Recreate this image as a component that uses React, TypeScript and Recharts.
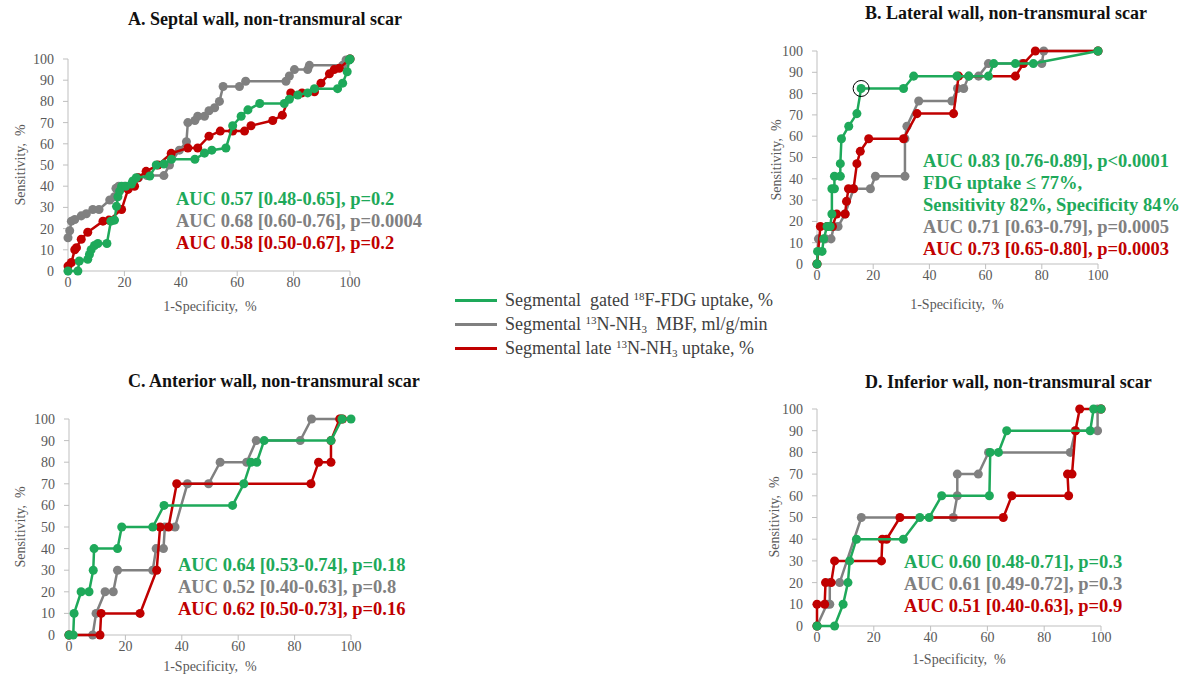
import React from "react";
import {
  ScatterChart,
  Scatter,
  XAxis,
  YAxis,
  ZAxis,
  ReferenceDot,
} from "recharts";

type Pt = { x: number; y: number };
const pts = (a: number[][]): Pt[] => a.map(([x, y]) => ({ x, y }));

const xTicks = [0, 20, 40, 60, 80, 100];
const yTicks = [0, 10, 20, 30, 40, 50, 60, 70, 80, 90, 100];

// A. Septal wall
const septalFdg = pts([
  [0, 0], [3.5, 0], [4, 4.7], [7, 5.5], [7.6, 7.8], [8.2, 10], [9.4, 12], [10.6, 13],
  [13.8, 13], [15.2, 23.5], [16.5, 24], [17.2, 30.5], [17.7, 35], [18.3, 37.7], [19, 40],
  [20.5, 40], [22.5, 41], [23, 42.5], [24.2, 44], [29, 44.8], [31.3, 50], [34, 50.5],
  [36.7, 52.7], [45, 52.7], [48.4, 55.6], [51, 57], [56, 58], [58.4, 68.5], [61.4, 73],
  [63.8, 76], [68, 79], [76.7, 79], [78.5, 81], [81.5, 83], [85, 84], [87.4, 86],
  [95.6, 86], [97.4, 88.6], [99, 94], [99.7, 99.5], [100, 100],
]);
const septalMbf = pts([
  [0, 15.7], [0.6, 19], [1.2, 23.5], [2.4, 24.3], [4.7, 26], [6.5, 27], [8.8, 29], [11, 29],
  [14.8, 33.5], [16.5, 35], [17, 39], [18, 40], [20, 40], [23, 42], [25, 44], [28, 45],
  [34, 45], [36, 50], [39.5, 57], [42, 61], [42.5, 70], [45, 71], [46, 73], [48.4, 73],
  [50, 75.6], [52, 77], [53.7, 80], [55, 87], [60.8, 87], [63, 89.5], [77.3, 89.5],
  [78.5, 92], [80.3, 95], [85, 95], [85.6, 97], [97.4, 97], [98.6, 99.5], [100, 100],
]);
const septalLate = pts([
  [0, 2.3], [1.2, 4], [2.4, 10], [3, 11], [4.7, 15], [7, 18.3], [12.4, 23.5], [14.5, 24],
  [19, 29], [21.3, 38.5], [23.6, 40], [24.8, 44], [27.7, 47], [31.9, 50], [36.6, 55.5],
  [42.5, 58], [46, 58], [50, 63.6], [54, 66], [58.4, 66], [62.6, 66], [64.9, 68.5],
  [72.6, 71], [76, 73.5], [79, 84], [83, 84], [87.4, 84.5], [89.7, 88.6], [92.7, 93],
  [94.4, 95], [96.2, 95.6], [100, 100],
]);

// B. Lateral wall
const lateralFdg = pts([
  [0, 0], [0.2, 5.9], [1.8, 5.9], [2.4, 11.8], [3.6, 17.6], [4.7, 17.6], [5.3, 23.5],
  [5.3, 35.3], [6.2, 35.3], [6.2, 41.2], [8.3, 41.2], [8.3, 47.1], [8.7, 58.8],
  [11.3, 64.7], [14.2, 70.6], [15.7, 82.4], [30.8, 82.4], [34.4, 88.2], [49.8, 88.2],
  [54, 88.2], [61, 88.2], [62.9, 94.1], [70.6, 94.1], [77, 94.1], [100, 100],
]);
const lateralMbf = pts([
  [0, 0], [0.5, 11.8], [3, 11.8], [5, 11.8], [6, 17.6], [7.5, 17.6], [10, 23.5], [13, 35.3],
  [19, 35.3], [20.8, 41.2], [31.3, 41.2], [31.3, 58.8], [32, 64.7], [36.2, 76.5], [48, 76.5],
  [50, 82.4], [52.2, 82.4], [54, 88.2], [57.5, 88.2], [61, 94.1], [73, 94.1], [80, 94.1],
  [80.7, 100], [100, 100],
]);
const lateralLate = pts([
  [0, 0], [1.2, 17.6], [3.6, 17.6], [5.5, 17.6], [7, 23.5], [10, 23.5], [10.5, 29.4],
  [11.2, 35.3], [13, 35.3], [14.2, 47.1], [15.4, 52.9], [18.4, 58.8], [30.8, 58.8],
  [35.6, 70.6], [48.6, 70.6], [50.4, 88.2], [70.6, 88.2], [73.5, 94.1], [77.7, 100], [100, 100],
]);
const lateralCutoff = { x: 15.7, y: 82.4 };

// C. Anterior wall
const anteriorFdg = pts([
  [0, 0], [1.5, 0], [1.8, 10], [4.3, 20], [7.1, 20], [8.6, 30], [8.9, 40], [17.2, 40],
  [18.7, 50], [29.7, 50], [33.7, 60], [58, 60], [62, 70], [64.5, 80], [66.6, 80], [69.2, 90],
  [92.9, 90], [96.8, 100], [100, 100],
]);
const anteriorMbf = pts([
  [0, 0], [8.4, 0], [9.6, 10], [12.8, 20], [15.7, 20], [17.2, 30], [29.7, 30], [30.9, 40],
  [33.5, 40], [34, 50], [37.6, 50], [42, 70], [49.5, 70], [53.6, 80], [63, 80], [66.4, 90],
  [82, 90], [86, 100], [96.2, 100],
]);
const anteriorLate = pts([
  [0, 0], [11, 0], [11.4, 10], [25.2, 10], [31.1, 30], [32.3, 50], [35.3, 50], [38.2, 70],
  [85.8, 70], [88.5, 80], [92.9, 80], [92.9, 90], [96, 100], [97, 100],
]);

// D. Inferior wall
const inferiorFdg = pts([
  [0, 0], [6.2, 0], [9.2, 10], [10.9, 20], [11.5, 30], [13.9, 40], [30.4, 40], [36.2, 50],
  [39.5, 50], [43.9, 60], [60.7, 60], [61, 80], [63.9, 80], [66.8, 90], [96.2, 90],
  [97.4, 100], [100, 100],
]);
const inferiorMbf = pts([
  [0, 0], [3.5, 10], [4.5, 10], [4.5, 20], [8, 20], [15.6, 50], [48, 50], [49.4, 60],
  [49.4, 70], [56.8, 70], [60.4, 80], [89.2, 80], [91, 90], [98.8, 90], [98.8, 100], [100, 100],
]);
const inferiorLate = pts([
  [0, 0], [0, 10], [2.7, 10], [3, 20], [5, 20], [6.2, 30], [22.7, 30], [23, 40], [24.5, 40],
  [29.2, 50], [65.6, 50], [68.6, 60], [88.6, 60], [88.2, 70], [89.8, 70], [91, 90],
  [92.5, 100], [100, 100],
]);

const GREEN = "#1ea95a";
const GRAY = "#808080";
const RED = "#c00000";
const FONT = "'Liberation Serif', 'Times New Roman', serif";

type PanelProps = {
  left: number;
  top: number;
  w: number;
  h: number;
  fdg: Pt[];
  mbf: Pt[];
  late: Pt[];
  cutoff?: Pt;
};

function RocPanel({ left, top, w, h, fdg, mbf, late, cutoff }: PanelProps) {
  const yw = 40;
  const mt = 10;
  const mr = 15;
  const xh = 30;
  const tick = { fill: "#595959", fontSize: 14, fontFamily: FONT };
  const series = [
    { data: mbf, color: GRAY },
    { data: late, color: RED },
    { data: fdg, color: GREEN },
  ];
  return (
    <div style={{ position: "absolute", left: left - yw, top: top - mt }}>
      <ScatterChart
        width={yw + w + mr}
        height={mt + h + xh}
        margin={{ top: mt, right: mr, bottom: 0, left: 0 }}
      >
        <XAxis
          type="number"
          dataKey="x"
          domain={[0, 100]}
          ticks={xTicks}
          height={xh}
          tick={tick}
          tickSize={5}
          tickMargin={1}
          stroke="#bfbfbf"
        />
        <YAxis
          type="number"
          dataKey="y"
          domain={[0, 100]}
          ticks={yTicks}
          width={yw}
          tick={tick}
          tickSize={5}
          tickMargin={9}
          stroke="#bfbfbf"
        />
        <ZAxis type="number" range={[45, 45]} />
        {series.map((s, i) => (
          <Scatter
            key={i}
            data={s.data}
            fill={s.color}
            line={{ stroke: s.color, strokeWidth: 2.5 }}
            lineJointType="linear"
            shape="circle"
            isAnimationActive={false}
          />
        ))}
        {cutoff && (
          <ReferenceDot x={cutoff.x} y={cutoff.y} r={8} fill="none" stroke="#000" strokeWidth={1} />
        )}
      </ScatterChart>
    </div>
  );
}

const abs = (left: number, top: number, extra: React.CSSProperties = {}): React.CSSProperties => ({
  position: "absolute",
  left,
  top,
  whiteSpace: "nowrap",
  fontFamily: FONT,
  ...extra,
});

function Title({ x, y, text }: { x: number; y: number; text: string }) {
  return (
    <div style={abs(x, y - 11, { fontSize: 18, fontWeight: "bold", color: "#111", lineHeight: "22px" })}>
      {text}
    </div>
  );
}

function AucLines({ x, y, lines }: { x: number; y: number; lines: [string, string][] }) {
  return (
    <div style={abs(x, y - 11, { fontSize: 18.5, fontWeight: "bold", lineHeight: "22px" })}>
      {lines.map(([t, c], i) => (
        <div key={i} style={{ color: c }}>
          {t}
        </div>
      ))}
    </div>
  );
}

function YTitle({ x, y }: { x: number; y: number }) {
  return (
    <div
      style={abs(x, y, {
        fontSize: 14,
        color: "#595959",
        transform: "translate(-50%, -50%) rotate(-90deg)",
        lineHeight: "16px",
      })}
    >
      Sensitivity,&nbsp; %
    </div>
  );
}

function XTitle({ x, y }: { x: number; y: number }) {
  return (
    <div style={abs(x, y, { fontSize: 14, color: "#595959", transform: "translate(-50%, -50%)", lineHeight: "16px" })}>
      1-Specificity,&nbsp; %
    </div>
  );
}

function LegendRow({ y, color, children }: { y: number; color: string; children: React.ReactNode }) {
  return (
    <div style={abs(455, y - 11, { height: 22, display: "flex", alignItems: "center", fontSize: 18, color: "#404040" })}>
      <span style={{ display: "inline-block", width: 42, height: 3, background: color, marginRight: 8 }} />
      <span>{children}</span>
    </div>
  );
}

const sup = { fontSize: 11, verticalAlign: "6px" } as React.CSSProperties;
const sub = { fontSize: 11, verticalAlign: "-3px" } as React.CSSProperties;

export default function App() {
  return (
    <div
      style={{
        position: "absolute",
        left: 0,
        top: 0,
        width: 1192,
        height: 687,
        background: "#fff",
        overflow: "hidden",
        fontFamily: FONT,
      }}
    >
      <RocPanel left={68} top={59} w={282} h={212} fdg={septalFdg} mbf={septalMbf} late={septalLate} />
      <RocPanel
        left={817}
        top={51}
        w={281}
        h={213}
        fdg={lateralFdg}
        mbf={lateralMbf}
        late={lateralLate}
        cutoff={lateralCutoff}
      />
      <RocPanel left={69} top={419} w={282} h={216} fdg={anteriorFdg} mbf={anteriorMbf} late={anteriorLate} />
      <RocPanel left={817} top={409} w={284} h={217} fdg={inferiorFdg} mbf={inferiorMbf} late={inferiorLate} />

      <Title x={128} y={19} text="A. Septal wall, non-transmural scar" />
      <Title x={865} y={13} text="B. Lateral wall, non-transmural scar" />
      <Title x={128} y={381} text="C. Anterior wall, non-transmural scar" />
      <Title x={865} y={382} text="D. Inferior wall, non-transmural scar" />

      <YTitle x={21} y={165} />
      <YTitle x={777} y={160} />
      <YTitle x={21} y={527} />
      <YTitle x={775} y={517} />

      <XTitle x={210} y={307} />
      <XTitle x={957} y={305} />
      <XTitle x={210} y={667} />
      <XTitle x={959} y={660} />

      <AucLines
        x={176}
        y={199}
        lines={[
          ["AUC 0.57 [0.48-0.65], p=0.2", GREEN],
          ["AUC 0.68 [0.60-0.76], p=0.0004", GRAY],
          ["AUC 0.58 [0.50-0.67], p=0.2", RED],
        ]}
      />
      <AucLines
        x={923}
        y={161}
        lines={[
          ["AUC 0.83 [0.76-0.89], p<0.0001", GREEN],
          ["FDG uptake \u2264 77%,", GREEN],
          ["Sensitivity 82%, Specificity 84%", GREEN],
          ["AUC 0.71 [0.63-0.79], p=0.0005", GRAY],
          ["AUC 0.73 [0.65-0.80], p=0.0003", RED],
        ]}
      />
      <AucLines
        x={178}
        y={565}
        lines={[
          ["AUC 0.64 [0.53-0.74], p=0.18", GREEN],
          ["AUC 0.52 [0.40-0.63], p=0.8", GRAY],
          ["AUC 0.62 [0.50-0.73], p=0.16", RED],
        ]}
      />
      <AucLines
        x={904}
        y={562}
        lines={[
          ["AUC 0.60 [0.48-0.71], p=0.3", GREEN],
          ["AUC 0.61 [0.49-0.72], p=0.3", GRAY],
          ["AUC 0.51 [0.40-0.63], p=0.9", RED],
        ]}
      />

      <LegendRow y={300} color={GREEN}>
        Segmental&nbsp; gated <span style={sup}>18</span>F-FDG uptake, %
      </LegendRow>
      <LegendRow y={324} color={GRAY}>
        Segmental <span style={sup}>13</span>N-NH<span style={sub}>3</span>&nbsp; MBF, ml/g/min
      </LegendRow>
      <LegendRow y={348} color={RED}>
        Segmental late <span style={sup}>13</span>N-NH<span style={sub}>3</span> uptake, %
      </LegendRow>
    </div>
  );
}
